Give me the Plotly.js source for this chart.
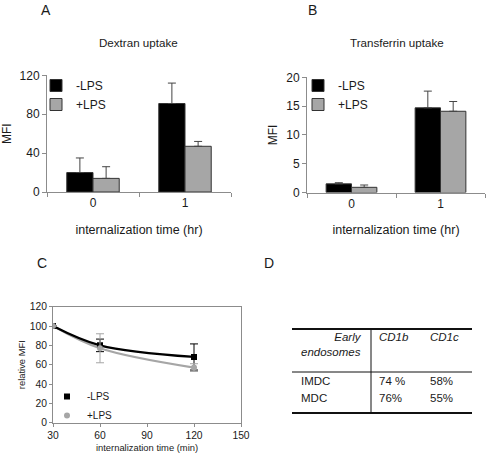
<!DOCTYPE html>
<html>
<head>
<meta charset="utf-8">
<script src="https://cdn.plot.ly/plotly-3.0.1.min.js"></script>
<style>html,body{margin:0;padding:0;background:#fff;}#chart{width:488px;height:464px;}</style>
</head>
<body>
<div id="chart"></div>
<script>
// ---- Data ----
const timeCats = ['0', '1'];
const seriesNames = ['-LPS', '+LPS'];
// Panel A: Dextran uptake (MFI)
const dextranMinus = [20, 91];
const dextranMinusErr = [15, 21];
const dextranPlus = [14, 47];
const dextranPlusErr = [12, 5];
// Panel B: Transferrin uptake (MFI)
const transMinus = [1.5, 14.7];
const transMinusErr = [0.2, 2.9];
const transPlus = [0.9, 14.1];
const transPlusErr = [0.4, 1.7];
// Panel C: relative MFI vs internalization time (min)
const minutes = [30, 60, 120];
const relMinus = [100, 80, 68];
const relMinusErr = [0, 6.5, 13.5];
const relPlus = [100, 77, 57];
const relPlusErr = [0, 15, 4];
// Panel D: table
const tableHeader = ['Early<br>endosomes', 'CD1b', 'CD1c'];
const tableRows = ['IMDC', 'MDC'];
const tableCD1b = ['74 %', '76%'];
const tableCD1c = ['58%', '55%'];

const W = 488, H = 464;
const px = v => v / W;
const py = v => 1 - v / H;
const FONT = 'Liberation Sans, Arial, sans-serif';
const TXT = '#1a1a1a';
const BLACK = '#000000';
const GRAY = '#a6a6a6';
const AXC = '#8c8c8c';

function barTrace(y, err, name, color, xa, ya, lg, showleg) {
  return {
    type: 'bar', x: timeCats, y: y, name: name,
    xaxis: xa, yaxis: ya, legend: lg, showlegend: showleg,
    marker: {color: color, line: {color: '#333', width: 1}},
    error_y: {type: 'data', symmetric: false, array: err, arrayminus: [0, 0],
              color: '#444', thickness: 1, width: 4}
  };
}

const traces = [
  barTrace(dextranMinus, dextranMinusErr, seriesNames[0], BLACK, 'x', 'y', 'legend', true),
  barTrace(dextranPlus, dextranPlusErr, seriesNames[1], GRAY, 'x', 'y', 'legend', true),
  barTrace(transMinus, transMinusErr, seriesNames[0], BLACK, 'x2', 'y2', 'legend2', true),
  barTrace(transPlus, transPlusErr, seriesNames[1], GRAY, 'x2', 'y2', 'legend2', true),
  // Panel C lines (smoothed)
  {type: 'scatter', mode: 'lines', x: minutes, y: relPlus, xaxis: 'x3', yaxis: 'y3',
   line: {color: GRAY, width: 2.2, shape: 'spline', smoothing: 1}, showlegend: false, hoverinfo: 'skip'},
  {type: 'scatter', mode: 'lines', x: minutes, y: relMinus, xaxis: 'x3', yaxis: 'y3',
   line: {color: BLACK, width: 2.2, shape: 'spline', smoothing: 1}, showlegend: false, hoverinfo: 'skip'},
  // Panel C markers + error bars
  {type: 'scatter', mode: 'markers', x: minutes, y: relMinus, name: seriesNames[0],
   xaxis: 'x3', yaxis: 'y3', legend: 'legend3',
   marker: {symbol: 'square', color: BLACK, size: 6},
   error_y: {type: 'data', array: relMinusErr, color: BLACK, thickness: 1, width: 4}},
  {type: 'scatter', mode: 'markers', x: minutes, y: relPlus, name: seriesNames[1],
   xaxis: 'x3', yaxis: 'y3', legend: 'legend3',
   marker: {symbol: 'circle', color: GRAY, size: 6},
   error_y: {type: 'data', array: relPlusErr, color: GRAY, thickness: 1, width: 4}}
];

const barX = {
  type: 'category', range: [-0.5, 1.5], showline: true, linecolor: AXC, linewidth: 1,
  ticks: 'outside', tickson: 'boundaries', ticklen: 4, tickcolor: AXC,
  showgrid: false, zeroline: false, fixedrange: true,
  tickfont: {family: FONT, size: 12, color: TXT},
  title: {text: 'internalization time (hr)', font: {family: FONT, size: 12.5, color: TXT}, standoff: 15}
};
const barY = {
  showline: true, linecolor: AXC, linewidth: 1, ticks: 'outside', ticklen: 4, tickcolor: AXC,
  showgrid: false, zeroline: false, fixedrange: true,
  tickfont: {family: FONT, size: 12, color: TXT},
  title: {text: 'MFI', font: {family: FONT, size: 12, color: TXT}, standoff: 6}
};

const legendBase = {
  bgcolor: 'rgba(0,0,0,0)', borderwidth: 0, xanchor: 'left', yanchor: 'top',
  font: {family: FONT, size: 12, color: TXT}, tracegroupgap: 0, traceorder: 'normal'
};

const annotations = [
  {text: 'A', x: px(46), y: py(10)},
  {text: 'B', x: px(312), y: py(10)},
  {text: 'C', x: px(42), y: py(263)},
  {text: 'D', x: px(269), y: py(263)}
].map(a => Object.assign(a, {xref: 'paper', yref: 'paper', showarrow: false,
  xanchor: 'center', yanchor: 'middle', font: {family: FONT, size: 14, color: TXT}}));

annotations.push(
  {text: 'Dextran uptake', x: px(138), y: py(42)},
  {text: 'Transferrin uptake', x: px(397), y: py(42)}
);
annotations.forEach(a => Object.assign(a, {xref: 'paper', yref: 'paper', showarrow: false,
  xanchor: a.xanchor || 'center', yanchor: a.yanchor || 'middle',
  font: a.font || {family: FONT, size: 11.6, color: TXT}}));

// Table (panel D)
const tFont = {family: FONT, size: 11.5, color: TXT};
const tItal = {family: FONT, size: 11.5, color: TXT, style: 'italic'};
const colX = [364, 377, 428];
annotations.push({text: tableHeader[0], x: px(colX[0]), y: py(344), xanchor: 'right', yanchor: 'middle',
  align: 'right', font: tItal, xref: 'paper', yref: 'paper', showarrow: false});
annotations.push({text: tableHeader[1], x: px(colX[1]), y: py(337), xanchor: 'left', yanchor: 'middle',
  font: tItal, xref: 'paper', yref: 'paper', showarrow: false});
annotations.push({text: tableHeader[2], x: px(colX[2]), y: py(337), xanchor: 'left', yanchor: 'middle',
  font: tItal, xref: 'paper', yref: 'paper', showarrow: false});
const rowY = [381, 398];
tableRows.forEach((r, i) => {
  annotations.push({text: r, x: px(299), y: py(rowY[i]), xanchor: 'left', yanchor: 'middle',
    font: tFont, xref: 'paper', yref: 'paper', showarrow: false});
  annotations.push({text: tableCD1b[i], x: px(colX[1]), y: py(rowY[i]), xanchor: 'left', yanchor: 'middle',
    font: tFont, xref: 'paper', yref: 'paper', showarrow: false});
  annotations.push({text: tableCD1c[i], x: px(colX[2]), y: py(rowY[i]), xanchor: 'left', yanchor: 'middle',
    font: tFont, xref: 'paper', yref: 'paper', showarrow: false});
});

const shapes = [
  {type: 'line', x0: px(292), x1: px(472), y0: py(329), y1: py(329), line: {color: '#111', width: 2}},
  {type: 'line', x0: px(292), x1: px(472), y0: py(372), y1: py(372), line: {color: '#111', width: 1}},
  {type: 'line', x0: px(292), x1: px(472), y0: py(413), y1: py(413), line: {color: '#111', width: 2}},
  {type: 'line', x0: px(371), x1: px(371), y0: py(329), y1: py(413), line: {color: '#111', width: 1}}
].map(s => Object.assign(s, {xref: 'paper', yref: 'paper'}));

const layout = {
  width: W, height: H,
  margin: {l: 0, r: 0, t: 0, b: 0},
  paper_bgcolor: '#fff', plot_bgcolor: 'rgba(0,0,0,0)',
  font: {family: FONT, color: TXT},
  barmode: 'group', bargap: 0.43, bargroupgap: 0,
  xaxis: Object.assign({}, barX, {domain: [px(47), px(231)], anchor: 'y'}),
  yaxis: Object.assign({}, barY, {domain: [py(192), py(75.3)], anchor: 'x', range: [0, 120], tickvals: [0, 40, 80, 120]}),
  xaxis2: Object.assign({}, barX, {domain: [px(307), px(485)], anchor: 'y2'}),
  yaxis2: Object.assign({}, barY, {domain: [py(192.5), py(77.3)], anchor: 'x2', range: [0, 20], tickvals: [0, 5, 10, 15, 20]}),
  xaxis3: {
    domain: [px(53), px(241)], anchor: 'y3', range: [30, 150], tickvals: [30, 60, 90, 120, 150],
    showline: true, mirror: true, linecolor: AXC, linewidth: 1, ticks: 'outside', ticklen: 3, tickcolor: AXC,
    showgrid: false, zeroline: false, fixedrange: true,
    tickfont: {family: FONT, size: 10.3, color: TXT},
    title: {text: 'internalization time (min)', font: {family: FONT, size: 9.4, color: TXT}, standoff: 4}
  },
  yaxis3: {
    domain: [py(422.7), py(306.7)], anchor: 'x3', range: [0, 120], tickvals: [0, 20, 40, 60, 80, 100, 120],
    showline: true, mirror: true, linecolor: AXC, linewidth: 1, ticks: 'outside', ticklen: 3, tickcolor: AXC,
    showgrid: false, zeroline: false, fixedrange: true,
    tickfont: {family: FONT, size: 10.3, color: TXT},
    title: {text: 'relative MFI', font: {family: FONT, size: 9.4, color: TXT}, standoff: 2}
  },
  legend: Object.assign({}, legendBase, {x: px(36), y: py(71)}),
  legend2: Object.assign({}, legendBase, {x: px(298), y: py(71)}),
  legend3: Object.assign({}, legendBase, {x: px(47), y: py(382), font: {family: FONT, size: 10, color: TXT}}),
  annotations: annotations,
  shapes: shapes
};

Plotly.newPlot('chart', traces, layout, {staticPlot: true, displayModeBar: false});
</script>
</body>
</html>
